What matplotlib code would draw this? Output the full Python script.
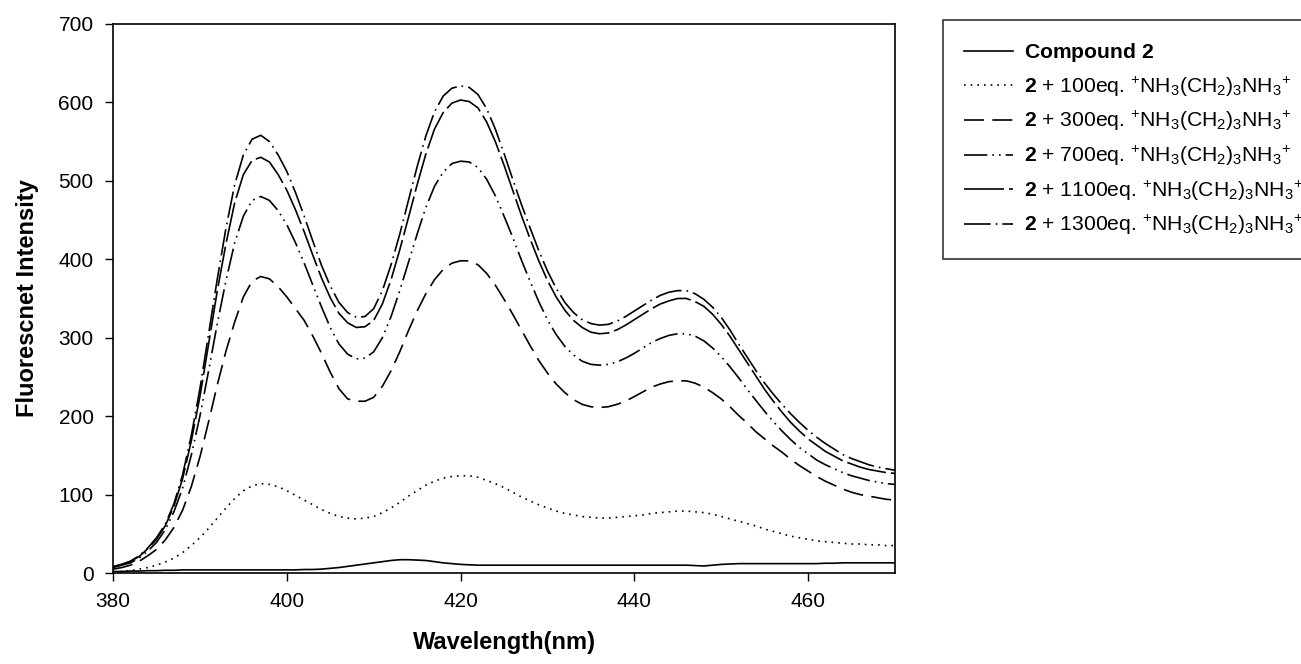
import matplotlib
matplotlib.use("Agg")
import matplotlib.pyplot as plt

plt.rcParams['font.family'] = ['Liberation Sans', 'DejaVu Sans']
plt.rcParams['mathtext.fontset'] = 'custom'
plt.rcParams['mathtext.rm'] = 'Liberation Sans'
plt.rcParams['mathtext.bf'] = 'Liberation Sans:bold'
plt.rcParams['mathtext.it'] = 'Liberation Sans:italic'

# wavelength grid (nm), 1 nm steps
wavelength = list(range(380, 471))

compound2 = [2, 2, 2.5, 2.5, 3, 3, 3.5, 3.5, 4, 4,
             4, 4, 4, 4, 4, 4, 4, 4, 4, 4,
             4, 4, 4.5, 4.5, 5, 6, 7, 8.5, 10, 11.5,
             13, 14.5, 16, 17, 17, 16.5, 16, 14.5, 13, 12,
             11, 10.5, 10, 10, 10, 10, 10, 10, 10, 10,
             10, 10, 10, 10, 10, 10, 10, 10, 10, 10,
             10, 10, 10, 10, 10, 10, 10, 9.5, 9, 10,
             11, 11.5, 12, 12, 12, 12, 12, 12, 12, 12,
             12, 12, 12.5, 12.5, 13, 13, 13, 13, 13, 13,
             13]

eq100 = [1, 2, 3, 5, 7, 10, 14, 19, 26, 35,
         45, 57, 70, 83, 95, 105, 111, 114, 113, 110,
         105, 99, 93, 87, 81, 76, 72, 70, 69, 70,
         72, 77, 83, 90, 98, 105, 112, 117, 121, 123,
         124, 124, 122, 118, 114, 109, 103, 97, 92, 87,
         83, 79, 76, 74, 72, 71, 70, 70, 71, 72,
         73, 74, 76, 77, 78, 79, 79, 78, 77, 75,
         72, 69, 66, 63, 60, 56, 53, 50, 47, 45,
         43, 41, 40, 39, 38, 37, 37, 36, 36, 35,
         35]

eq300 = [5, 7, 10, 15, 22, 30, 42, 58, 80, 110,
         148, 193, 240, 283, 320, 352, 372, 378, 375, 365,
         352, 337, 322, 302, 280, 256, 235, 222, 219, 219,
         224, 238, 258, 282, 309, 334, 356, 374, 387, 395,
         398, 398, 393, 382, 367, 349, 330, 310, 290, 271,
         255, 241, 230, 221, 215, 212, 211, 212, 215, 219,
         225, 231, 237, 241, 244, 245, 245, 242, 237, 230,
         222, 212, 201, 191, 180, 171, 162, 154, 145, 137,
         130, 123, 117, 112, 107, 103, 100, 98, 96, 94,
         93]

eq700 = [7, 10, 13, 19, 28, 39, 55, 78, 108, 150,
         200, 258, 318, 373, 421, 455, 475, 480, 475, 462,
         444, 421, 395, 367, 339, 313, 292, 279, 273, 274,
         282, 300, 327, 360, 396, 432, 466, 493, 511, 522,
         525, 524, 517, 502, 481, 455, 428, 399, 372, 346,
         323, 304, 289, 278, 270, 266, 265, 266, 269, 274,
         280, 287, 294, 299, 303, 305, 305, 302, 296, 287,
         276, 263, 249, 234, 220, 206, 193, 181, 170, 160,
         152, 144, 138, 133, 128, 124, 121, 118, 116, 114,
         113]

eq1100 = [8, 11, 15, 21, 31, 43, 60, 85, 120, 168,
          225, 292, 360, 420, 472, 508, 526, 530, 524, 508,
          488, 463, 435, 405, 376, 351, 331, 319, 313, 314,
          322, 343, 374, 412, 453, 495, 534, 566, 587, 599,
          603, 601, 593, 575, 550, 520, 488, 456, 426, 398,
          373, 352, 335, 322, 313, 307, 305, 306, 310, 316,
          323, 330, 337, 343, 347, 350, 350, 346, 340, 330,
          317, 302, 285, 268, 251, 234, 219, 205, 192, 181,
          171, 163, 155, 149, 143, 139, 135, 132, 130, 128,
          127]

eq1300 = [8, 11, 15, 22, 32, 45, 62, 88, 125, 175,
          235, 305, 375, 440, 495, 533, 553, 558, 550, 533,
          512, 485, 455, 423, 392, 366, 345, 332, 326, 327,
          337, 360, 393, 432, 475, 518, 557, 588, 608, 618,
          621, 619, 610, 592, 566, 535, 502, 470, 440, 411,
          385, 363, 345, 332, 323, 318, 316, 317, 321, 327,
          334, 341, 348, 354, 358, 360, 360, 356, 349, 339,
          326, 310, 292, 275, 258, 242, 228, 215, 203, 192,
          182, 173, 165, 158, 151, 146, 142, 138, 135, 133,
          131]

amine = r"$^{+}$NH$_3$(CH$_2$)$_3$NH$_3$$^{+}$"
labels = [r"$\mathbf{Compound\ 2}$",
          r"$\mathbf{2}$ + 100eq. " + amine,
          r"$\mathbf{2}$ + 300eq. " + amine,
          r"$\mathbf{2}$ + 700eq. " + amine,
          r"$\mathbf{2}$ + 1100eq. " + amine,
          r"$\mathbf{2}$ + 1300eq. " + amine]

series = [compound2, eq100, eq300, eq700, eq1100, eq1300]
styles = ['-', (0, (1, 3)), (0, (12, 5)), (0, (14, 3, 1, 3, 1, 3)),
          (0, (24, 3)), (0, (16, 3, 1, 3))]

fig = plt.figure(figsize=(13.01, 6.64), dpi=100)
ax = fig.add_axes([0.0869, 0.137, 0.601, 0.827])

handles = []
for ys, ls, lab in zip(series, styles, labels):
    h, = ax.plot(wavelength, ys, color='black', linestyle=ls, linewidth=1.2,
                 label=lab)
    handles.append(h)

ax.set_xlim(380, 470)
ax.set_ylim(0, 700)
ax.set_xticks([380, 400, 420, 440, 460])
ax.set_yticks(range(0, 701, 100))
ax.tick_params(direction='out', length=6, width=1, labelsize=15, pad=8,
               top=False, right=False)
for sp in ax.spines.values():
    sp.set_linewidth(1.2)

ax.set_xlabel('Wavelength(nm)', fontsize=17, fontweight='bold', labelpad=14)
ax.set_ylabel('Fluorescnet Intensity', fontsize=17, fontweight='bold',
              labelpad=14)

leg = fig.legend(handles=handles, loc='upper left',
                 bbox_to_anchor=(943 / 1301, 1 - 20 / 664),
                 fontsize=15.2, frameon=True, fancybox=False,
                 edgecolor='black', handlelength=2.3, handletextpad=0.55,
                 labelspacing=0.5, borderpad=1.0, borderaxespad=0)
leg.get_frame().set_linewidth(1.2)

fig.savefig('out.png', dpi=100)
